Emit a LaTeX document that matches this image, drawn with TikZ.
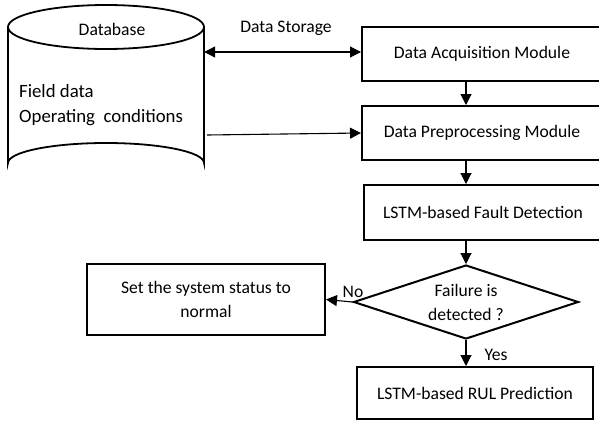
\documentclass[tikz,border=0pt]{standalone}
\usepackage{fontspec}
\setmainfont{Carlito}
\usetikzlibrary{shapes.geometric,arrows.meta,calc}
\begin{document}
\begin{tikzpicture}[x=1pt,y=-1pt,
  box/.style={draw,line width=2pt,rectangle,inner sep=0pt,align=center,font=\fontsize{17.6}{24}\selectfont},
  arr/.style={line width=1.1pt,-{Triangle[length=11pt,width=11pt]}},
  lbl/.style={font=\fontsize{17.6}{24}\selectfont,inner sep=0pt}]
\useasboundingbox (0,0) rectangle (599,423);
% database cylinder
\node[minimum width=196pt,minimum height=178pt,inner sep=0pt] (db) at (106,94) {};
\draw[line width=1.8pt] (8,27) -- (8,163) arc[start angle=180,end angle=360,x radius=98,y radius=20] -- (204,27);
\draw[line width=1.8pt] (106,27) ellipse[x radius=98,y radius=22];
\node[lbl] (dbl) at (112,29) {Database};
\node[anchor=west,align=left,inner sep=0pt,font=\fontsize{18.8}{25}\selectfont] (dbt) at (19,105) {Field data\\Operating\ \ conditions};
% boxes
\node[box,minimum width=240pt,minimum height=54pt] (acq) at (482,54) {Data Acquisition Module};
\node[box,minimum width=240pt,minimum height=54pt] (pre) at (482,133) {Data Preprocessing Module};
\node[box,minimum width=238pt,minimum height=55pt] (flt) at (483,212.5) {LSTM-based Fault Detection};
\node[draw,line width=2pt,diamond,aspect=3.04,minimum width=225pt,minimum height=74pt,inner sep=0pt,align=center,font=\fontsize{17.6}{24}\selectfont] (dia) at (466,302) {Failure is\\detected ?};
\node[box,minimum width=238pt,minimum height=71pt] (set) at (206,299.5) {Set the system status to\\normal};
\node[box,minimum width=236pt,minimum height=52pt] (rul) at (475,393) {LSTM-based RUL Prediction};
% connectors
\draw[line width=1.1pt,{Triangle[length=11pt,width=11pt]}-{Triangle[length=11pt,width=11pt]}] ($(db.east)+(0,-42)$) -- ($(acq.west)+(0,-2)$);
\node[lbl] (ds) at (286,28) {Data Storage};
\draw[arr] ($(db.east)+(3,41)$) -- (pre.west);
\draw[arr] (dia.north |- acq.south) -- (dia.north |- pre.north);
\draw[arr] (dia.north |- pre.south) -- (dia.north |- flt.north);
\draw[arr] (dia.north |- flt.south) -- (dia.north);
\draw[arr] (dia.west) -- (set.east);
\node[lbl] (no) at (353,292) {No};
\draw[arr] (dia.south) -- (dia.south |- rul.north);
\node[lbl] (yes) at (496,355) {Yes};
\end{tikzpicture}
\end{document}
